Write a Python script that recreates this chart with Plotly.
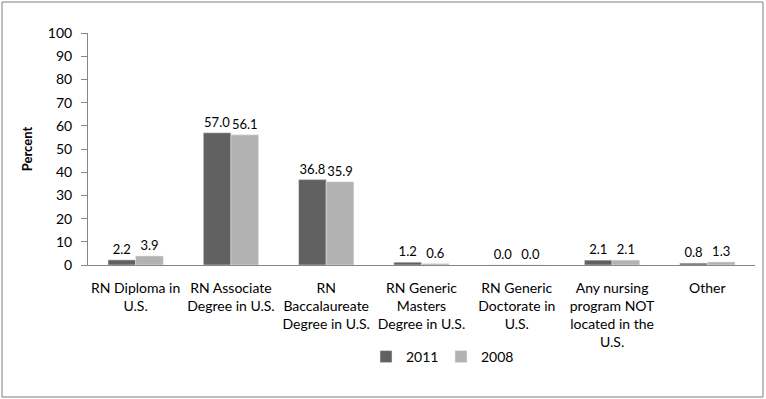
import plotly.graph_objects as go

categories = ["RN Diploma in<br>U.S.", "RN Associate<br>Degree in U.S.", "RN<br>Baccalaureate<br>Degree in U.S.",
              "RN Generic<br>Masters<br>Degree in U.S.", "RN Generic<br>Doctorate in<br>U.S.",
              "Any nursing<br>program NOT<br>located in the<br>U.S.", "Other"]
values_2011 = [2.2, 57.0, 36.8, 1.2, 0.0, 2.1, 0.8]
values_2008 = [3.9, 56.1, 35.9, 0.6, 0.0, 2.1, 1.3]

W, H = 766, 399
L, R, T, B = 88, 11, 33, 134
pw, ph = W - L - R, H - T - B

font = "Lato, Open Sans, sans-serif"

fig = go.Figure()
fig.add_trace(go.Bar(name="2011", x=categories, y=values_2011, marker_color="#616161",
                     text=[f"{v:.1f}" for v in values_2011], textposition="outside",
                     textfont=dict(size=13, color="#000000"), cliponaxis=False))
fig.add_trace(go.Bar(name="2008", x=categories, y=values_2008, marker_color="#b2b2b2",
                     text=[f"{v:.1f}" for v in values_2008], textposition="outside",
                     textfont=dict(size=13, color="#000000"), cliponaxis=False))

def px(x):
    return (x - L) / pw

def py(y):
    return (H - B - y) / ph

fig.update_layout(
    width=W, height=H,
    margin=dict(l=L, r=R, t=T, b=B),
    paper_bgcolor="white", plot_bgcolor="white",
    font=dict(family=font, size=13, color="#000000"),
    barmode="group", bargap=0.42, bargroupgap=0,
    showlegend=True,
    legend=dict(orientation="h", x=px(366), xanchor="left", y=py(357), yanchor="middle",
                font=dict(size=14), itemwidth=30, entrywidth=30, traceorder="normal",
                tracegroupgap=0),
    xaxis=dict(showline=True, linecolor="#868686", linewidth=1, ticks="",
               tickfont=dict(size=14), showgrid=False, fixedrange=True,
               ticklabelstandoff=10),
    yaxis=dict(range=[0, 100], dtick=10, showline=True, linecolor="#868686", linewidth=1,
               ticks="outside", ticklen=6, tickcolor="#868686", showgrid=False, zeroline=False,
               tickfont=dict(size=14), ticklabelstandoff=6,
               title=dict(text="<b>Percent</b>", font=dict(size=13), standoff=12)),
    shapes=[dict(type="rect", xref="paper", yref="paper",
                 x0=px(2), x1=px(763), y0=py(397), y1=py(2),
                 line=dict(color="#7f7f7f", width=1), fillcolor="rgba(0,0,0,0)", layer="below")],
)

fig.write_html("out.html")
